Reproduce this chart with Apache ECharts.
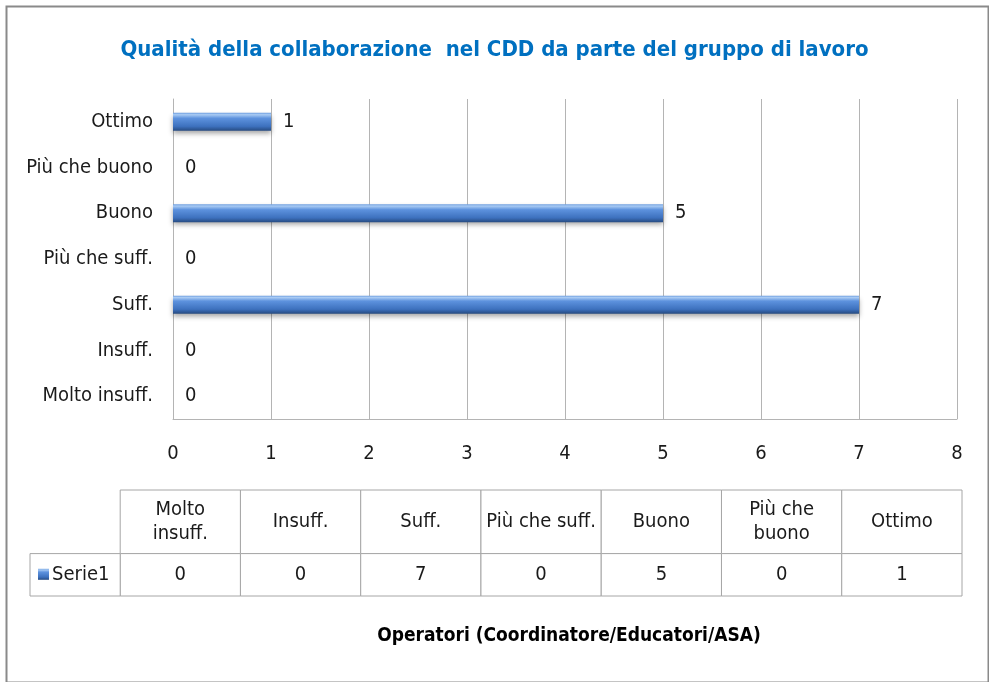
<!DOCTYPE html>
<html>
<head>
<meta charset="utf-8">
<script src="https://cdn.jsdelivr.net/npm/echarts@6/dist/echarts.min.js"></script>
<style>
  html, body { margin: 0; padding: 0; background: #fff; }
  #chart { width: 989px; height: 682px; }
</style>
</head>
<body>
<div id="chart"></div>
<script>
// categories from bottom to top (same order as the data table)
const categories = ['Molto insuff.', 'Insuff.', 'Suff.', 'Più che suff.', 'Buono', 'Più che buono', 'Ottimo']
const tableHeaders = ['Molto\ninsuff.', 'Insuff.', 'Suff.', 'Più che suff.', 'Buono', 'Più che\nbuono', 'Ottimo']
const serie1 = [0, 0, 7, 0, 5, 0, 1]
const seriesName = 'Serie1'
const xTicks = { min: 0, max: 8, interval: 1 }

const FONT = '"Liberation Sans Narrow", "DejaVu Sans Condensed", sans-serif'
const TEXT = '#1a1a1a'
const GRID_LINE = '#b4b4b4'
const TABLE_LINE = '#a6a6a6'

const barFill = new echarts.graphic.LinearGradient(0, 0, 0, 1, [
  { offset: 0, color: '#6f9fe0' },
  { offset: 0.1, color: '#a8caf3' },
  { offset: 0.3, color: '#5d92de' },
  { offset: 0.75, color: '#3d71be' },
  { offset: 1, color: '#264a80' },
])

function renderCell(params, api) {
  const i = api.value(0)
  const top = api.coord([i, 0])
  const mid = api.coord([i + 1, 3])
  const bot = api.coord([i + 1, 5])
  const w = mid[0] - top[0]
  const cx = top[0] + w / 2
  const cellStyle = { fill: '#fff', stroke: TABLE_LINE, lineWidth: 1 }
  return {
    type: 'group',
    children: [
      { type: 'rect', shape: { x: top[0], y: top[1], width: w, height: mid[1] - top[1] }, style: cellStyle },
      { type: 'rect', shape: { x: top[0], y: mid[1], width: w, height: bot[1] - mid[1] }, style: cellStyle },
      {
        type: 'text', x: cx, y: (top[1] + mid[1]) / 2,
        style: { text: tableHeaders[i], align: 'center', verticalAlign: 'middle', fontFamily: FONT, fontSize: 20, lineHeight: 24, fill: TEXT },
      },
      {
        type: 'text', x: cx, y: (mid[1] + bot[1]) / 2,
        style: { text: String(api.value(1)), align: 'center', verticalAlign: 'middle', fontFamily: FONT, fontSize: 20, fill: TEXT },
      },
    ],
  }
}

function renderRowHeader(params, api) {
  const a = api.coord([api.value(0), 3])
  const b = api.coord([0, 5])
  const cy = (a[1] + b[1]) / 2
  return {
    type: 'group',
    children: [
      { type: 'rect', shape: { x: a[0], y: a[1], width: b[0] - a[0], height: b[1] - a[1] }, style: { fill: '#fff', stroke: TABLE_LINE, lineWidth: 1 } },
      { type: 'rect', shape: { x: a[0] + 8, y: cy - 6, width: 11, height: 11 }, style: { fill: barFill } },
      { type: 'text', x: a[0] + 22, y: cy, style: { text: seriesName, verticalAlign: 'middle', fontFamily: FONT, fontSize: 20, fill: TEXT } },
    ],
  }
}

const chart = echarts.init(document.getElementById('chart'))

chart.setOption({
  animation: false,
  title: [
    {
      text: 'Qualità della collaborazione  nel CDD da parte del gruppo di lavoro',
      left: 'center',
      top: 34,
      textStyle: { fontFamily: FONT, fontSize: 22, fontWeight: 'bold', color: '#0070c0' },
    },
    {
      text: 'Operatori (Coordinatore/Educatori/ASA)',
      left: 564,
      textAlign: 'center',
      top: 622,
      textStyle: { fontFamily: FONT, fontSize: 19, fontWeight: 'bold', color: '#000' },
    },
  ],
  graphic: [
    {
      type: 'rect',
      left: 4,
      top: 4,
      shape: { width: 982, height: 676 },
      style: { fill: 'none', stroke: '#8a8a8a', lineWidth: 2 },
      silent: true,
    },
  ],
  grid: [
    { left: 173, right: 32, top: 99, bottom: 263 },
    { left: 30, right: 27, top: 490, bottom: 86 },
  ],
  xAxis: [
    {
      type: 'value',
      gridIndex: 0,
      min: xTicks.min,
      max: xTicks.max,
      interval: xTicks.interval,
      axisLine: { show: true, lineStyle: { color: GRID_LINE } },
      axisTick: { show: false },
      splitLine: { show: true, lineStyle: { color: GRID_LINE, width: 1 } },
      axisLabel: { margin: 25, fontFamily: FONT, fontSize: 20, color: TEXT },
    },
    { type: 'value', gridIndex: 1, min: -0.75, max: 7, show: false },
  ],
  yAxis: [
    {
      type: 'category',
      gridIndex: 0,
      data: categories,
      axisLine: { show: true, lineStyle: { color: GRID_LINE } },
      axisTick: { show: false },
      splitLine: { show: false },
      axisLabel: { margin: 20, fontFamily: FONT, fontSize: 20, color: TEXT },
    },
    { type: 'value', gridIndex: 1, min: 0, max: 5, inverse: true, show: false },
  ],
  series: [
    {
      name: seriesName,
      type: 'bar',
      xAxisIndex: 0,
      yAxisIndex: 0,
      data: serie1,
      barWidth: 18,
      itemStyle: {
        color: barFill,
        shadowColor: 'rgba(0,0,0,0.35)',
        shadowBlur: 5,
        shadowOffsetY: 3,
      },
      label: {
        show: true,
        position: 'right',
        distance: 12,
        fontFamily: FONT,
        fontSize: 20,
        color: TEXT,
      },
    },
    {
      type: 'custom',
      xAxisIndex: 1,
      yAxisIndex: 1,
      renderItem: renderCell,
      encode: { x: 0, y: 1 },
      data: serie1.map((v, i) => [i, v]),
      silent: true,
    },
    {
      type: 'custom',
      xAxisIndex: 1,
      yAxisIndex: 1,
      renderItem: renderRowHeader,
      encode: { x: 0 },
      data: [[-0.75]],
      silent: true,
    },
  ],
})
</script>
</body>
</html>
